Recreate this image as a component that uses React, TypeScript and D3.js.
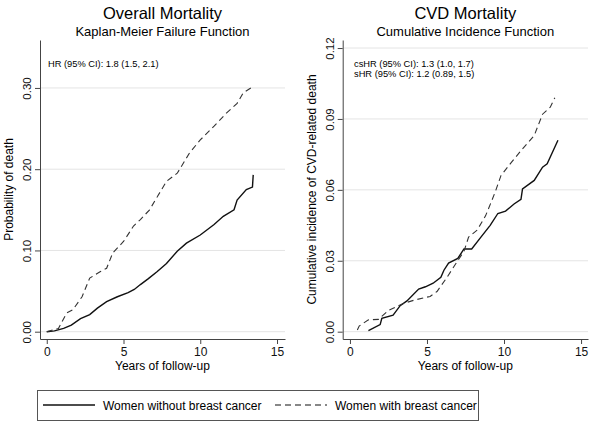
import React, { useEffect, useRef } from "react";
import * as d3 from "d3";

type Pt = [number, number];

// years of follow-up, cumulative probability
const overallWithout: Pt[] = [
  [0, 0], [0.5, 0.001], [1.1, 0.004], [1.6, 0.008], [2.2, 0.016], [2.8, 0.021], [3.3, 0.029],
  [3.9, 0.037], [4.6, 0.043], [5.3, 0.048], [5.7, 0.052], [6.1, 0.058], [6.6, 0.065],
  [7.2, 0.074], [7.8, 0.084], [8.5, 0.099], [9.1, 0.109], [10, 0.119], [10.9, 0.132],
  [11.5, 0.142], [12.2, 0.15], [12.4, 0.162], [13.0, 0.175], [13.4, 0.178], [13.45, 0.193],
];
const overallWith: Pt[] = [
  [0, 0], [0.76, 0.004], [1.3, 0.023], [1.7, 0.027], [2.3, 0.043], [2.8, 0.066], [3.5, 0.074],
  [3.9, 0.078], [4.3, 0.097], [5.0, 0.111], [5.65, 0.13], [6.1, 0.138], [6.7, 0.15],
  [7.1, 0.163], [7.2, 0.166], [7.8, 0.185], [8.5, 0.195], [9.3, 0.22], [10, 0.236],
  [10.9, 0.253], [11.7, 0.269], [12.4, 0.281], [12.8, 0.294], [13.3, 0.3],
];
const cvdWithout: Pt[] = [
  [1.2, 0.0004], [1.96, 0.003], [2.07, 0.0057], [2.8, 0.007], [3.26, 0.011], [3.7, 0.013],
  [4.46, 0.018], [4.9, 0.019], [5.4, 0.0205], [5.9, 0.023], [6.1, 0.026], [6.4, 0.029],
  [7.0, 0.031], [7.4, 0.035], [7.9, 0.035], [8.5, 0.04], [9.1, 0.045], [9.6, 0.05],
  [10.1, 0.051], [10.65, 0.054], [11.1, 0.056], [11.2, 0.0604], [11.96, 0.064],
  [12.5, 0.0696], [12.8, 0.071], [13.5, 0.081],
];
const cvdWith: Pt[] = [
  [0.48, 0.0007], [0.6, 0.0024], [1.2, 0.005], [1.85, 0.0052], [2.5, 0.009], [3.5, 0.012],
  [4.2, 0.0134], [5.2, 0.0149], [5.65, 0.017], [6.3, 0.023], [6.96, 0.0297], [7.4, 0.034],
  [7.7, 0.04], [8.26, 0.043], [8.8, 0.049], [9.24, 0.056], [9.46, 0.0597], [9.8, 0.066],
  [10.4, 0.071], [11.1, 0.0766], [11.96, 0.083], [12.5, 0.092], [13.0, 0.095], [13.3, 0.099],
];

const xTicks = [0, 5, 10, 15];
const overallTicks = [0, 0.1, 0.2, 0.3];
const cvdTicks = [0, 0.03, 0.06, 0.09, 0.12];

const legendLabels = ["Women without breast cancer", "Women with breast cancer"];

const FONT = "'Liberation Sans', Arial, Helvetica, sans-serif";

function App() {
  const svgRef = useRef<SVGSVGElement>(null);
  const width = 601;
  const height = 428;

  useEffect(() => {
    const svg = d3.select(svgRef.current);
    svg.selectAll("*").remove();

    const panels = [
      {
        title: "Overall Mortality",
        subtitle: "Kaplan-Meier Failure Function",
        ylabel: "Probability of death",
        xRange: [40, 285],
        xDomain: [-0.44, 15.52],
        yDomain: [-0.009, 0.359],
        yTicks: overallTicks,
        notes: ["HR (95% CI): 1.8 (1.5, 2.1)"],
        noteX: 48,
        noteY: 67,
        series: [overallWithout, overallWith],
      },
      {
        title: "CVD Mortality",
        subtitle: "Cumulative Incidence Function",
        ylabel: "Cumulative incidence of CVD-related death",
        xRange: [342.7, 588],
        xDomain: [-0.47, 15.45],
        yDomain: [-0.0031, 0.1234],
        yTicks: cvdTicks,
        notes: ["csHR (95% CI): 1.3 (1.0, 1.7)", "sHR (95% CI): 1.2 (0.89, 1.5)"],
        noteX: 354,
        noteY: 67,
        series: [cvdWithout, cvdWith],
      },
    ];

    panels.forEach(p => {
      const g = svg.append("g");
      const x = d3.scaleLinear().domain(p.xDomain).range(p.xRange);
      const y = d3.scaleLinear().domain(p.yDomain).range([339, 40]);
      const cx = (p.xRange[0] + p.xRange[1]) / 2;

      g.append("text")
        .attr("x", cx).attr("y", 19)
        .attr("text-anchor", "middle")
        .attr("font-size", 16.5)
        .text(p.title);
      g.append("text")
        .attr("x", cx).attr("y", 36)
        .attr("text-anchor", "middle")
        .attr("font-size", 13)
        .text(p.subtitle);

      // gridlines
      g.selectAll(".grid")
        .data(p.yTicks)
        .enter()
        .append("line")
        .attr("x1", p.xRange[0] + 1)
        .attr("x2", p.xRange[1])
        .attr("y1", d => y(d))
        .attr("y2", d => y(d))
        .attr("stroke", "#e4e4e4")
        .attr("stroke-width", 1);

      // axes
      const yAxis = g.append("g")
        .attr("transform", `translate(${p.xRange[0]},0)`)
        .call(d3.axisLeft(y).tickValues(p.yTicks).tickSize(5).tickSizeOuter(0).tickFormat(d3.format(".2f")));
      yAxis.selectAll("text")
        .attr("transform", "rotate(-90)")
        .attr("x", 0)
        .attr("y", -9)
        .attr("dy", null)
        .attr("text-anchor", "middle")
        .attr("font-size", 11.5)
        .attr("font-family", FONT)
        .attr("fill", "#111");

      const xAxis = g.append("g")
        .attr("transform", "translate(0,339)")
        .call(d3.axisBottom(x).tickValues(xTicks).tickSize(5).tickSizeOuter(0));
      xAxis.selectAll("text")
        .attr("y", 8)
        .attr("font-size", 12)
        .attr("font-family", FONT)
        .attr("fill", "#111");

      g.selectAll(".domain, .tick line").attr("stroke", "#444");

      g.append("text")
        .attr("x", cx).attr("y", 370)
        .attr("text-anchor", "middle")
        .attr("font-size", 12)
        .text("Years of follow-up");

      g.append("text")
        .attr("transform", `translate(${p.xRange[0] - 27},${(40 + 339) / 2}) rotate(-90)`)
        .attr("text-anchor", "middle")
        .attr("font-size", 12)
        .text(p.ylabel);

      p.notes.forEach((n, i) => {
        g.append("text")
          .attr("x", p.noteX).attr("y", p.noteY + i * 10)
          .attr("font-size", 9.3)
          .text(n);
      });

      const line = d3.line<Pt>().x(d => x(d[0])).y(d => y(d[1]));
      p.series.forEach((s, i) => {
        g.append("path")
          .datum(s)
          .attr("d", line)
          .attr("fill", "none")
          .attr("stroke", i === 0 ? "#111" : "#333")
          .attr("stroke-width", i === 0 ? 1.4 : 1.1)
          .attr("stroke-dasharray", i === 0 ? null : "6,4");
      });
    });

    // legend
    const lg = svg.append("g");
    lg.append("rect")
      .attr("x", 37.5).attr("y", 390.5)
      .attr("width", 441).attr("height", 30)
      .attr("fill", "white")
      .attr("stroke", "#555");
    legendLabels.forEach((lab, i) => {
      const x0 = i === 0 ? 43 : 275;
      lg.append("line")
        .attr("x1", x0).attr("x2", x0 + 52)
        .attr("y1", 405).attr("y2", 405)
        .attr("stroke", "#111")
        .attr("stroke-width", i === 0 ? 1.4 : 1.1)
        .attr("stroke-dasharray", i === 0 ? null : "6,4");
      lg.append("text")
        .attr("x", x0 + 60).attr("y", 409.5)
        .attr("font-size", 12)
        .text(lab);
    });
  }, []);

  return (
    <svg
      ref={svgRef}
      width={width}
      height={height}
      style={{ position: "absolute", left: 0, top: 0, fontFamily: FONT, background: "white" }}
    ></svg>
  );
}

export default App;
